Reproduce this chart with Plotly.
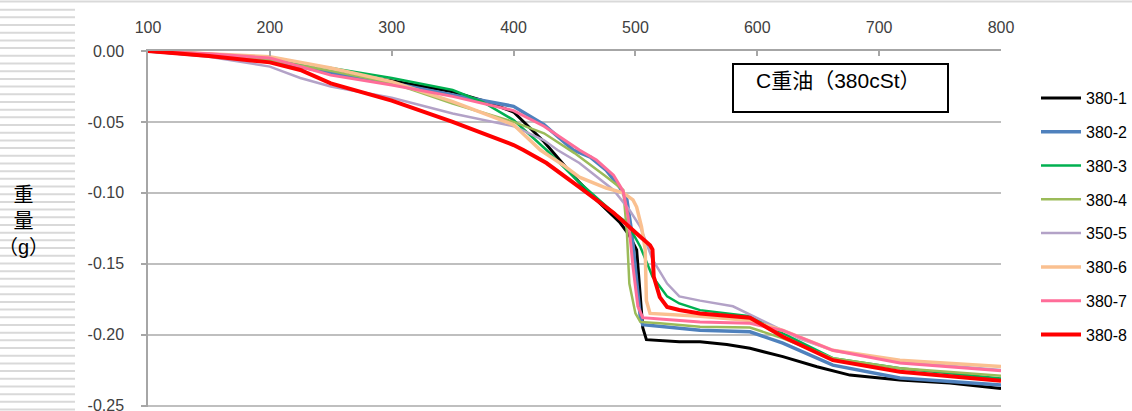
import plotly.graph_objects as go

# ---------------- data ----------------
series_names = ["380-1", "380-2", "380-3", "380-4", "350-5", "380-6", "380-7", "380-8"]

x_380_1 = [100, 150, 200, 250, 300, 350, 375, 400, 425, 450, 468, 487, 495, 501, 504, 506, 509, 520, 536, 553, 575, 594, 621, 649, 676, 717, 758, 800]
y_380_1 = [0, -0.003, -0.0065, -0.0146, -0.021, -0.0287, -0.035, -0.043, -0.064, -0.089, -0.105, -0.1206, -0.130, -0.1403, -0.170, -0.195, -0.2035, -0.204, -0.205, -0.205, -0.207, -0.2096, -0.2155, -0.2226, -0.2285, -0.232, -0.234, -0.238]

x_380_2 = [100, 150, 200, 250, 300, 350, 400, 425, 449, 463, 476, 487, 493, 497, 501, 504, 506, 520, 553, 594, 621, 662, 717, 800]
y_380_2 = [0, -0.003, -0.0065, -0.0155, -0.0226, -0.031, -0.039, -0.052, -0.0698, -0.0748, -0.084, -0.096, -0.105, -0.128, -0.164, -0.1876, -0.193, -0.194, -0.1968, -0.198, -0.206, -0.2215, -0.2306, -0.2355]

x_380_3 = [100, 150, 200, 250, 300, 350, 375, 400, 427, 452, 482, 493, 504, 514, 526, 536, 553, 594, 621, 662, 717, 800]
y_380_3 = [0, -0.002, -0.006, -0.012, -0.019, -0.0275, -0.036, -0.0487, -0.0698, -0.091, -0.114, -0.121, -0.138, -0.159, -0.173, -0.178, -0.1827, -0.187, -0.199, -0.2166, -0.2237, -0.231]

x_380_4 = [100, 150, 200, 250, 300, 350, 400, 425, 450, 475, 490, 493, 495, 500, 504, 520, 553, 594, 621, 662, 717, 800]
y_380_4 = [0, -0.003, -0.0065, -0.014, -0.0225, -0.037, -0.050, -0.058, -0.072, -0.088, -0.098, -0.128, -0.164, -0.185, -0.191, -0.192, -0.1944, -0.195, -0.2026, -0.2166, -0.2237, -0.229]

x_350_5 = [100, 150, 200, 225, 250, 300, 350, 400, 425, 436, 454, 482, 495, 504, 514, 526, 536, 553, 580, 608, 635, 662, 717, 758, 800]
y_350_5 = [0, -0.004, -0.011, -0.019, -0.025, -0.033, -0.044, -0.053, -0.063, -0.0698, -0.079, -0.098, -0.112, -0.124, -0.147, -0.164, -0.173, -0.176, -0.180, -0.192, -0.203, -0.211, -0.219, -0.222, -0.225]

x_380_6 = [100, 150, 200, 250, 300, 350, 400, 422, 440, 454, 476, 490, 498, 501, 505, 508, 509, 512, 530, 553, 594, 621, 662, 717, 800]
y_380_6 = [0, -0.002, -0.004, -0.012, -0.0216, -0.0357, -0.052, -0.0698, -0.080, -0.089, -0.0966, -0.100, -0.105, -0.110, -0.124, -0.140, -0.176, -0.185, -0.186, -0.187, -0.190, -0.197, -0.211, -0.218, -0.2225]

x_380_7 = [100, 150, 200, 250, 300, 350, 400, 425, 454, 468, 482, 490, 494, 498, 502, 506, 520, 553, 594, 621, 662, 717, 800]
y_380_7 = [0, -0.002, -0.005, -0.017, -0.024, -0.032, -0.042, -0.053, -0.0698, -0.0769, -0.0875, -0.099, -0.117, -0.152, -0.180, -0.188, -0.189, -0.191, -0.192, -0.197, -0.211, -0.220, -0.2255]

x_380_8 = [100, 150, 200, 225, 250, 300, 350, 400, 408, 427, 454, 482, 504, 512, 514, 515, 520, 526, 536, 553, 594, 621, 662, 717, 800]
y_380_8 = [0, -0.0035, -0.008, -0.0134, -0.0228, -0.035, -0.050, -0.0663, -0.0698, -0.079, -0.096, -0.114, -0.131, -0.137, -0.140, -0.159, -0.1735, -0.1805, -0.1826, -0.185, -0.188, -0.2015, -0.218, -0.2262, -0.2325]

x_ticks = [100, 200, 300, 400, 500, 600, 700, 800]
y_ticks = [0, -0.05, -0.10, -0.15, -0.20, -0.25]
y_tick_labels = ["0.00", "-0.05", "-0.10", "-0.15", "-0.20", "-0.25"]

title_text = "C重油（380cSt）"
y_title_text = "重<br>量<br>（g）"

# ---------------- styles ----------------
xs = [x_380_1, x_380_2, x_380_3, x_380_4, x_350_5, x_380_6, x_380_7, x_380_8]
ys = [y_380_1, y_380_2, y_380_3, y_380_4, y_350_5, y_380_6, y_380_7, y_380_8]
colors = ["#000000", "#4f81bd", "#00b050", "#9bbb59", "#b3a2c7", "#fac090", "#ff6d99", "#ff0000"]
widths = [3, 3.5, 2.5, 2.5, 2.5, 3.5, 3, 4]

FONT = "Liberation Sans, Arial, Noto Sans CJK JP, sans-serif"
W, H = 1132, 411
ML, MR, MT, MB = 148, 131, 51, 4
PW, PH = W - ML - MR, H - MT - MB


def px2x(px):
    return (px - ML) / PW


def py2y(py):
    return (H - MB - py) / PH


fig = go.Figure()
for i, name in enumerate(series_names):
    fig.add_trace(go.Scatter(
        x=xs[i], y=ys[i], name=name, mode="lines",
        line=dict(color=colors[i], width=widths[i]),
        legendgroup=name,
    ))

shapes = []
# top border of the sheet
shapes.append(dict(type="line", xref="paper", yref="paper",
                   x0=px2x(0), x1=px2x(W), y0=py2y(1.5), y1=py2y(1.5),
                   line=dict(color="#d9d9d9", width=2), layer="below"))
# striped strip at left edge
py = 9.67
while py < H:
    shapes.append(dict(type="line", xref="paper", yref="paper",
                       x0=px2x(0), x1=px2x(75), y0=py2y(py), y1=py2y(py),
                       line=dict(color="#d9d9d9", width=2), layer="below"))
    py += 7.69
# title box
shapes.append(dict(type="rect", xref="paper", yref="paper",
                   x0=px2x(733), x1=px2x(948), y0=py2y(112), y1=py2y(64),
                   line=dict(color="#000000", width=2), fillcolor="white"))

annotations = [
    dict(text=title_text, xref="paper", yref="paper", x=px2x(838), y=py2y(80),
         xanchor="center", yanchor="middle", showarrow=False,
         font=dict(family=FONT, size=21, color="#000000")),
    dict(text=y_title_text, xref="paper", yref="paper", x=px2x(23), y=py2y(221),
         xanchor="center", yanchor="middle", showarrow=False, align="center",
         font=dict(family=FONT, size=20, color="#000000")),
]

fig.update_layout(
    width=W, height=H,
    margin=dict(l=ML, r=MR, t=MT, b=MB, autoexpand=False),
    plot_bgcolor="white", paper_bgcolor="white",
    font=dict(family=FONT, size=16, color="#404040"),
    shapes=shapes, annotations=annotations,
    showlegend=True,
    legend=dict(x=px2x(1036), y=py2y(81), xanchor="left", yanchor="top",
                font=dict(family=FONT, size=16, color="#000000"),
                tracegroupgap=10, itemwidth=40, bgcolor="rgba(0,0,0,0)"),
    xaxis=dict(range=[100, 800], side="top", tickvals=x_ticks,
               ticks="inside", ticklen=5, tickcolor="#a6a6a6", tickwidth=1.5,
               showline=True, linecolor="#a6a6a6", linewidth=1.5,
               showgrid=False, zeroline=False, ticklabelstandoff=10,
               tickfont=dict(family=FONT, size=16, color="#404040")),
    yaxis=dict(range=[-0.251, 0], tickvals=y_ticks, ticktext=y_tick_labels,
               ticks="outside", ticklen=5, tickcolor="#a6a6a6", tickwidth=1.5,
               showline=True, linecolor="#a6a6a6", linewidth=1.5,
               showgrid=True, gridcolor="#bfbfbf", gridwidth=1.5,
               zeroline=False, ticklabelstandoff=14, ticklabeloverflow="allow",
               tickfont=dict(family=FONT, size=16, color="#404040")),
)

fig.write_html("out.html")
